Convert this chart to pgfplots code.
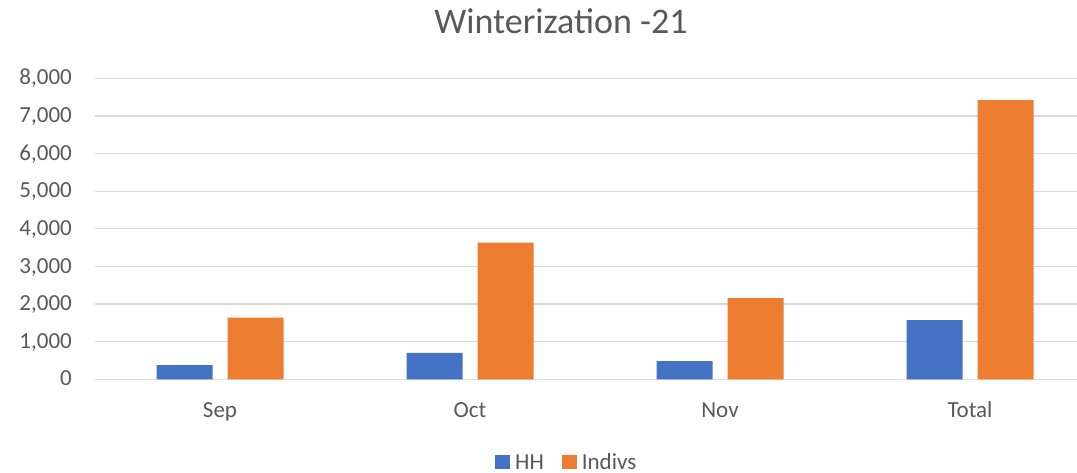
\documentclass[border=0pt]{standalone}
\usepackage{fontspec}
\setmainfont{Carlito}
\usepackage{pgfplots}
\pgfplotsset{compat=1.18}
\definecolor{hh}{HTML}{4472C4}
\definecolor{ind}{HTML}{ED7D31}
\definecolor{txt}{HTML}{595959}
\definecolor{grd}{HTML}{D9D9D9}
\begin{document}
\begin{tikzpicture}[x=1bp,y=1bp]
\useasboundingbox (0,0) rectangle (1077,473);
\node[anchor=base, inner sep=0pt, text=txt, font=\fontsize{36bp}{40bp}\selectfont] at (561,439.7) {Winterization -21};
\begin{axis}[
  at={(95bp,93.7bp)}, anchor=south west,
  scale only axis, width=982bp, height=301bp,
  xmin=-0.5, xmax=3.428, ymin=0, ymax=8000,
  ybar=15bp, bar width=56bp,
  xtick={0,1,2,3}, xticklabels={Sep,Oct,Nov,Total},
  ytick={0,1000,...,8000},
  major tick length=0pt,
  axis line style={draw=none},
  ymajorgrids, grid style={grd, line width=1.3bp},
  /pgf/number format/assume math mode=true,
  /pgf/number format/1000 sep={,},
  scaled y ticks=false,
  tick label style={text=txt, font=\fontsize{23bp}{27bp}\selectfont, inner sep=0pt},
  yticklabel style={anchor=base east, xshift=-23bp, yshift=-6.7bp},
  xticklabel style={anchor=base, yshift=-38.7bp},
  legend columns=2,
  legend style={draw=none, fill=none, inner sep=0pt, at={(0.4073,-0.3037)}, anchor=south west,
    font=\fontsize{23bp}{27bp}\selectfont, text=txt,
    nodes={inner sep=0pt, anchor=base},
    /tikz/every odd column/.append style={column sep=5bp},
    /tikz/every even column/.append style={column sep=18bp}},
  legend image code/.code={\fill[#1] (0bp,0bp) rectangle (15bp,14bp);},
]
\addplot[fill=hh, draw=none] coordinates {(0,375) (1,700) (2,482) (3,1570)};
\addplot[fill=ind, draw=none] coordinates {(0,1638) (1,3635) (2,2155) (3,7420)};
\legend{HH, Indivs}
\end{axis}
\end{tikzpicture}
\end{document}
